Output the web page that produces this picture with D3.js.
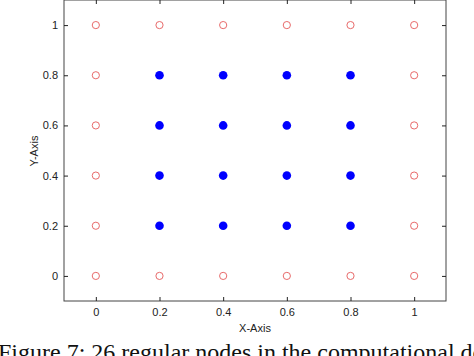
<!DOCTYPE html>
<html><head><meta charset="utf-8">
<script src="https://cdn.jsdelivr.net/npm/d3@7"></script>
<style>body{margin:0;background:#fff;overflow:hidden}svg{display:block}</style>
</head><body>
<svg id="c" width="474" height="356"></svg>
<script>
const boundaryX = [0,0.2,0.4,0.6,0.8,1, 0,1, 0,1, 0,1, 0,1, 0,0.2,0.4,0.6,0.8,1];
const boundaryY = [1,1,1,1,1,1, 0.8,0.8, 0.6,0.6, 0.4,0.4, 0.2,0.2, 0,0,0,0,0,0];
const interiorX = [0.2,0.4,0.6,0.8, 0.2,0.4,0.6,0.8, 0.2,0.4,0.6,0.8, 0.2,0.4,0.6,0.8];
const interiorY = [0.8,0.8,0.8,0.8, 0.6,0.6,0.6,0.6, 0.4,0.4,0.4,0.4, 0.2,0.2,0.2,0.2];
const xTicks = [0,0.2,0.4,0.6,0.8,1];
const yTicks = [0,0.2,0.4,0.6,0.8,1];

const svg = d3.select("#c");
const L=64, R=446, T=0, B=301;
const x = d3.scaleLinear().domain([-0.1,1.1]).range([L,R]);
const y = d3.scaleLinear().domain([-0.1,1.1]).range([B,T]);
const fmt = d => String(d);

svg.append("rect").attr("x",L).attr("y",T).attr("width",R-L).attr("height",B-T)
  .attr("fill","#fff").attr("stroke","#444").attr("stroke-width",1);

const ax = (g)=>g.selectAll(".domain").remove();
svg.append("g").attr("transform",`translate(0,${B})`)
  .call(d3.axisBottom(x).tickValues(xTicks).tickSize(-4).tickPadding(7).tickFormat(fmt)).call(ax);
svg.append("g").attr("transform",`translate(0,${T})`)
  .call(d3.axisTop(x).tickValues(xTicks).tickSize(-4).tickFormat("")).call(ax);
svg.append("g").attr("transform",`translate(${L},0)`)
  .call(d3.axisLeft(y).tickValues(yTicks).tickSize(-4).tickPadding(6).tickFormat(fmt)).call(ax);
svg.append("g").attr("transform",`translate(${R},0)`)
  .call(d3.axisRight(y).tickValues(yTicks).tickSize(-4).tickFormat("")).call(ax);
svg.selectAll(".tick line").attr("stroke","#222");
svg.selectAll(".tick text").attr("font-family","Liberation Sans, Arial, sans-serif").attr("font-size",11).attr("fill","#222");

svg.append("g").selectAll("circle").data(boundaryX.map((v,i)=>[v,boundaryY[i]])).join("circle")
  .attr("cx",d=>x(d[0])).attr("cy",d=>y(d[1])).attr("r",3.6)
  .attr("fill","none").attr("stroke","#e86a6a").attr("stroke-width",1);
svg.append("g").selectAll("circle").data(interiorX.map((v,i)=>[v,interiorY[i]])).join("circle")
  .attr("cx",d=>x(d[0])).attr("cy",d=>y(d[1])).attr("r",4.3)
  .attr("fill","#0000ff");

svg.append("text").attr("x",255).attr("y",332).attr("text-anchor","middle")
  .attr("font-family","Liberation Sans, Arial, sans-serif").attr("font-size",11).attr("fill","#222").text("X-Axis");
svg.append("text").attr("transform","translate(38,151) rotate(-90)").attr("text-anchor","middle")
  .attr("font-family","Liberation Sans, Arial, sans-serif").attr("font-size",11).attr("fill","#222").text("Y-Axis");

svg.append("text").attr("x",-2).attr("y",360)
  .attr("font-family","Liberation Serif, Times New Roman, serif").attr("font-size",24).attr("fill","#111")
  .text("Figure 7: 26 regular nodes in the computational domain");
</script>
</body></html>
